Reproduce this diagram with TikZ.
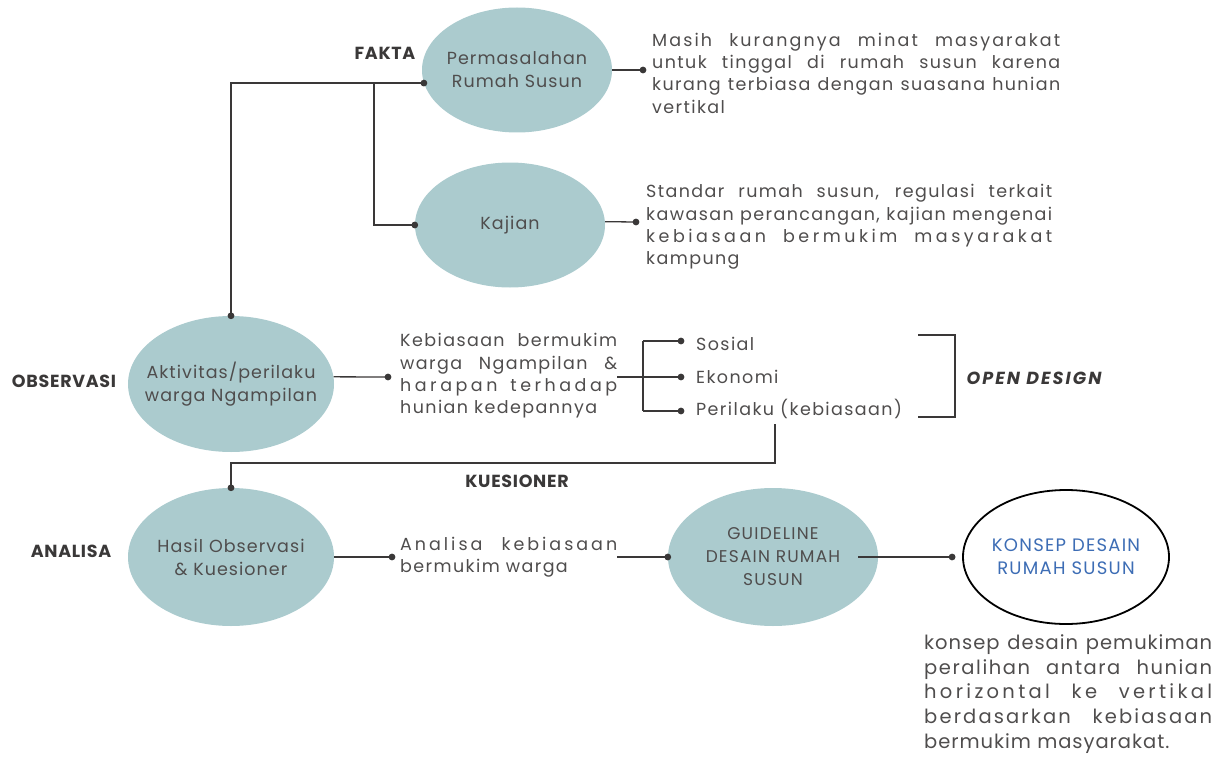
\documentclass[tikz,border=0pt]{standalone}
\usepackage{fontspec}
\setmainfont{Poppins}
\usetikzlibrary{shapes.geometric,calc}
\definecolor{bub}{HTML}{ABCBCE}
\definecolor{ink}{HTML}{3A3838}
\definecolor{txt}{HTML}{4F4D4D}
\definecolor{konsepblue}{HTML}{3D6DB5}
\newcommand{\bodyfont}{\fontsize{17.5}{22.3}\selectfont\addfontfeature{LetterSpace=8}}
% a run of text set with its own letter spacing
\newcommand{\wide}[2]{{\addfontfeature{LetterSpace=#1}#2}}
\begin{document}
\begin{tikzpicture}[x=1pt,y=-1pt,
  bubble/.style={ellipse, fill=bub, inner sep=-30pt, align=center, text=txt,
    font=\fontsize{17.5}{23}\selectfont\addfontfeature{LetterSpace=6}},
  note/.style={anchor=west, inner sep=0pt, text=txt, align=justify, font=\bodyfont},
  item/.style={anchor=west, inner sep=0pt, text=txt, font=\bodyfont},
  stage/.style={inner sep=0pt, text=ink, font=\fontsize{17.5}{20}\selectfont\bfseries\addfontfeature{LetterSpace=4}},
  wire/.style={draw=ink, line width=1.3pt},
  dot/.style={fill=ink, draw=none},
]
\useasboundingbox (0,0) rectangle (1231,757);

% ellipses
\node[bubble, minimum width=190pt, minimum height=125pt] (perm) at (517,70) {Permasalahan\\Rumah Susun};
\node[bubble, minimum width=190pt, minimum height=125pt] (kaj) at (510,225) {Kajian};
\node[bubble, minimum width=206pt, minimum height=136pt] (akt) at (231,384) {Aktivitas/perilaku\\warga Ngampilan};
\node[bubble, minimum width=206pt, minimum height=138pt] (has) at (231,557) {Hasil Observasi\\\& Kuesioner};
\node[bubble, minimum width=210pt, minimum height=138pt,
      font=\fontsize{17}{23}\selectfont\addfontfeature{LetterSpace=7}] (gui) at (773,557) {GUIDELINE\\DESAIN RUMAH\\SUSUN};
\node[ellipse, draw=black, line width=1.8pt, fill=white, minimum width=206pt, minimum height=134pt,
      inner sep=-30pt, align=center, text=konsepblue,
      font=\fontsize{18}{23}\selectfont\addfontfeature{LetterSpace=7}] (kon) at (1066,557) {KONSEP DESAIN\\RUMAH SUSUN};

% stage labels
\node[stage] (fakta) at (385,53) {FAKTA};
\node[stage] (obs) at (64,381) {OBSERVASI};
\node[stage] (kues) at (517,481) {KUESIONER};
\node[stage] (anl) at (71,551) {ANALISA};
\node[stage, font=\fontsize{17.5}{20}\selectfont\bfseries\itshape\addfontfeature{LetterSpace=12}] (open) at (1034,378) {OPEN DESIGN};

% descriptive texts
\node[note, text width=408pt] (n1) at (652,73) {\wide{12}{Masih kurangnya minat masyarakat}\linebreak
untuk tinggal di rumah susun karena\linebreak
kurang terbiasa dengan suasana hunian\linebreak
vertikal};
\node[note, text width=406pt] (n2) at (646,227) {Standar rumah susun, regulasi terkait\linebreak
kawasan perancangan, kajian mengenai\linebreak
\wide{20}{kebiasaan bermukim masyarakat}\linebreak
kampung};
\node[note, text width=217pt] (n3) at (400,376) {Kebiasaan bermukim\linebreak
warga Ngampilan \&\linebreak
\wide{20}{harapan terhadap}\linebreak
hunian kedepannya};
\node[note, text width=217pt] (n4) at (400,557) {\wide{17}{Analisa kebiasaan}\linebreak
bermukim warga};
\node[note, text width=288pt, font=\fontsize{19.5}{24.6}\selectfont\addfontfeature{LetterSpace=5}] (n5) at (924,694) {konsep desain pemukiman\linebreak
\wide{8}{peralihan antara hunian}\linebreak
\wide{17}{horizontal ke vertikal}\linebreak
\wide{11}{berdasarkan kebiasaan}\linebreak
bermukim masyarakat.};

\node[item] (sos) at (696,344) {Sosial};
\node[item] (eko) at (696,377) {Ekonomi};
\node[item] (per) at (696,409) {Perilaku (kebiasaan)};

% connector points
\coordinate (bx) at (374,0);
\coordinate (d1) at (643,70);
\coordinate (d2) at (636,222);
\coordinate (d3) at (388,377);
\coordinate (jn) at (617,377);
\coordinate (bv) at (643,0);
\coordinate (ds) at (681,341);
\coordinate (de) at (681,377);
\coordinate (dp) at (681,411);
\coordinate (pk) at (775,424);
\coordinate (kq) at (775,463);
\coordinate (d4) at (392,557);
\coordinate (an) at (617,557);
\coordinate (dk) at ($(kon.west)+(-10,0)$);
\coordinate (go) at ($(gui.east)+(-20,0)$);

% connectors
\draw[wire] (perm.188) -| (akt.north);
\draw[wire] (kaj.west) -| (perm.188 -| bx);
\draw[wire] (perm.east) -- (d1);
\draw[wire] (kaj.2) -- (d2);
\draw[wire] (akt.4) -- (d3);
\draw[wire] (jn) -- (de);
\draw[wire] (ds -| bv) -- (dp -| bv);
\draw[wire] (ds -| bv) -- (ds);
\draw[wire] (dp -| bv) -- (dp);
\draw[wire] (pk) -- (kq) -| (has.north);
\draw[wire] (has.east) -- (d4);
\draw[wire] (an) -- (gui.west);
\draw[wire] (go) -- (dk);
\draw[wire] (918,335) -- (955,335) -- (955,417) -- (918,417);

% dots
\foreach \p in {perm.188, akt.north, kaj.west, d1, d2, d3, ds, de, dp, has.north, d4, gui.west, dk}
  \fill[dot] (\p) circle (3.4pt);
\end{tikzpicture}
\end{document}
